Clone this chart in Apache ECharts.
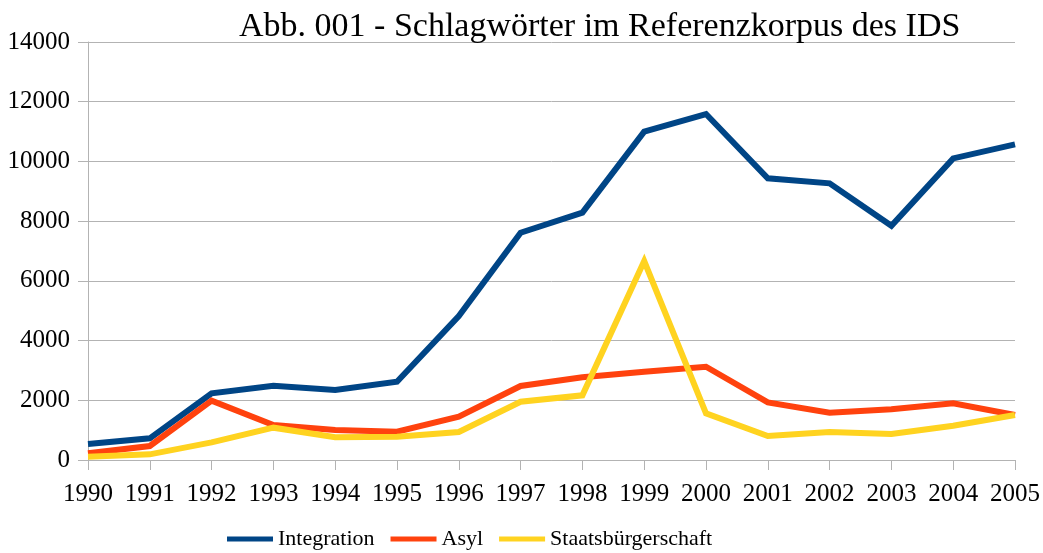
<!DOCTYPE html>
<html>
<head>
<meta charset="utf-8">
<script src="https://cdn.jsdelivr.net/npm/echarts@6/dist/echarts.min.js"></script>
<style>html,body{margin:0;padding:0;background:#fff}#c{width:1043px;height:553px}</style>
</head>
<body>
<div id="c"></div>
<script>
const years = ['1990','1991','1992','1993','1994','1995','1996','1997','1998','1999','2000','2001','2002','2003','2004','2005'];
const integration = [536, 725, 2233, 2489, 2344, 2623, 4822, 7613, 8283, 10995, 11588, 9433, 9266, 7847, 10103, 10572];
const asyl = [223, 469, 1987, 1172, 1005, 949, 1451, 2478, 2768, 2958, 3125, 1931, 1585, 1697, 1898, 1507];
const staats = [112, 190, 592, 1083, 759, 781, 938, 1953, 2166, 6664, 1563, 804, 938, 871, 1150, 1507];

const font = '"Liberation Serif", serif';
const chart = echarts.init(document.getElementById('c'), null, {renderer: 'canvas'});
const mk = (name, data, color) => ({
  name, type: 'line', data, symbol: 'none', showSymbol: false, smooth: false,
  lineStyle: {width: 6, color, join: 'miter'}, itemStyle: {color},
  emphasis: {disabled: true}
});
const lbl = {fontFamily: font, fontSize: 25, color: '#000'};
chart.setOption({
  animation: false,
  backgroundColor: '#fff',
  textStyle: {fontFamily: font},
  title: {
    text: 'Abb. 001 - Schlagwörter im Referenzkorpus des IDS',
    left: 234, top: 5,
    textStyle: {fontFamily: font, fontSize: 34, fontWeight: 'normal', color: '#000'}
  },
  legend: {
    left: 222, top: 523,
    icon: 'rect',
    itemWidth: 46, itemHeight: 5, itemGap: 16,
    textStyle: {fontFamily: font, fontSize: 22, color: '#000'},
    data: ['Integration', 'Asyl', 'Staatsbürgerschaft']
  },
  grid: {left: 88, right: 27, top: 42, bottom: 93, containLabel: false},
  xAxis: {
    type: 'category', data: years, boundaryGap: false,
    axisLine: {lineStyle: {color: '#b3b3b3', width: 1}},
    axisTick: {show: true, length: 10, lineStyle: {color: '#b3b3b3'}},
    axisLabel: Object.assign({margin: 22, interval: 0}, lbl),
    splitLine: {show: false}
  },
  yAxis: {
    type: 'value', min: 0, max: 14000, interval: 2000,
    axisLine: {show: true, lineStyle: {color: '#b3b3b3', width: 1}},
    axisTick: {show: true, length: 10, lineStyle: {color: '#b3b3b3'}},
    axisLabel: Object.assign({margin: 18, formatter: v => String(v)}, lbl),
    splitLine: {show: true, lineStyle: {color: '#b3b3b3', width: 1}}
  },
  series: [
    mk('Integration', integration, '#004586'),
    mk('Asyl', asyl, '#ff420e'),
    mk('Staatsbürgerschaft', staats, '#ffd320')
  ]
});
</script>
</body>
</html>
